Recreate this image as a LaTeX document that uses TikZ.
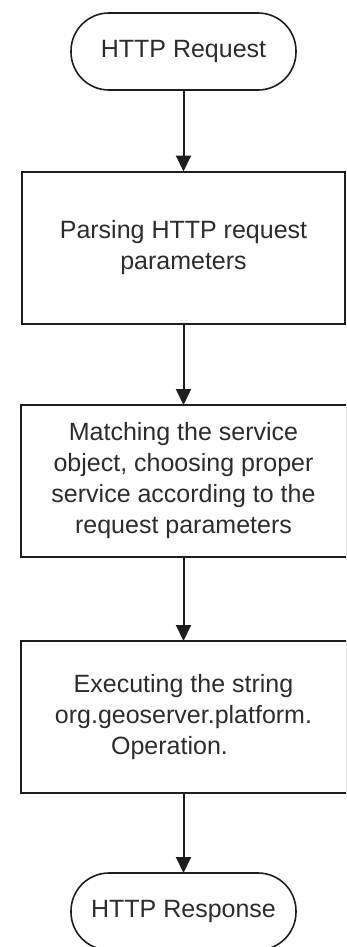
\documentclass[tikz,border=0pt]{standalone}
\usepackage{fontspec}
\setmainfont{Liberation Sans}
\usetikzlibrary{arrows.meta}
\definecolor{ln}{HTML}{1E1E1E}
\definecolor{tx}{HTML}{2C2C2C}
\begin{document}
\begin{tikzpicture}[x=1pt,y=-1pt,
  every node/.style={inner sep=0pt, outer sep=0pt, text=tx, font=\fontsize{25}{31}\selectfont, align=center},
  stepbox/.style={draw=ln, line width=2pt, minimum height=152pt},
  term/.style={draw=ln, line width=1.6pt, rounded corners=38pt, minimum width=225pt, minimum height=77pt},
  flow/.style={draw=ln, line width=2pt, -{Triangle[width=15pt,length=16pt]}}]
\clip (0,0) rectangle (346,947);
\node[term] (start) at (183.5,51.5) {HTTP Request};
\node[stepbox, minimum width=323pt] (b1) at (183.5,247.5) {Parsing HTTP request\\parameters};
\node[stepbox, minimum width=326pt] (b2) at (183.5,481) {Matching the service\\object, choosing proper\\service according to the\\request parameters};
\node[stepbox, minimum width=326pt] (b3) at (183.5,717) {Executing the string\\org.geoserver.platform.\\Operation.\hspace*{28pt}};
\node[term] (stop) at (183.5,911.5) {HTTP Response};
\draw[flow] (start) -- (b1);
\draw[flow] (b1) -- (b2);
\draw[flow] (b2) -- (b3);
\draw[flow] (b3) -- (stop);
\end{tikzpicture}
\end{document}
